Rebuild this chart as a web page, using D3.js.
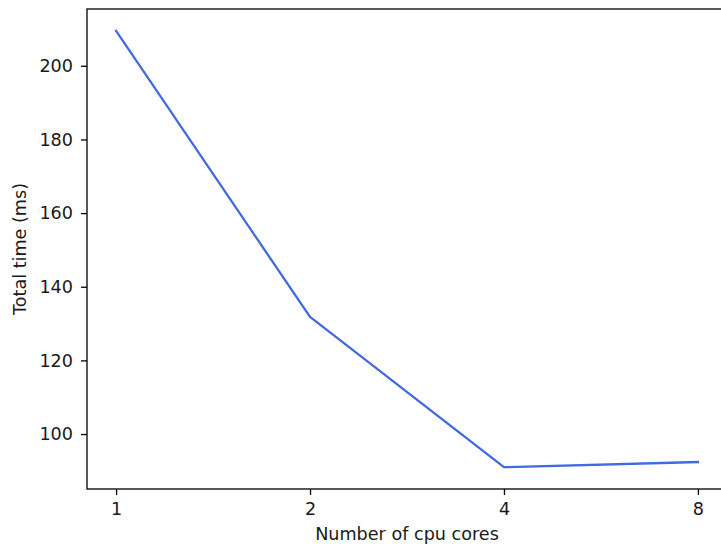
<!DOCTYPE html>
<html>
<head>
<meta charset="utf-8">
<script src="https://cdn.jsdelivr.net/npm/d3@7"></script>
<style>
  html, body { margin: 0; padding: 0; background: #fff; }
  svg { display: block; font-family: "DejaVu Sans", sans-serif; }
</style>
</head>
<body>
<svg id="chart" width="721" height="547"></svg>
<script>
// Total time measured for each number of CPU cores
const cores = [1, 2, 4, 8];
const totalTimeMs = [209.5, 131.8, 91.0, 92.4];
const xTickLabels = ["1", "2", "4", "8"];
const yTicks = [100, 120, 140, 160, 180, 200];

const svg = d3.select("#chart");
const plot = { left: 87, top: 9, right: 727, bottom: 489 };
const fontSize = "17.6px";

// log2 x axis with 5% padding on each side
const lx = d3.extent(cores).map(Math.log2);
const padX = (lx[1] - lx[0]) * 0.05;
const x = d3.scaleLog().base(2)
  .domain([Math.pow(2, lx[0] - padX), Math.pow(2, lx[1] + padX)])
  .range([plot.left, plot.right]);

const ye = d3.extent(totalTimeMs);
const padY = (ye[1] - ye[0]) * 0.05;
const y = d3.scaleLinear()
  .domain([ye[0] - padY, ye[1] + padY])
  .range([plot.bottom, plot.top]);

const tickSize = 6;

// x axis
const xAxis = svg.append("g")
  .attr("transform", `translate(0,${plot.bottom})`)
  .call(d3.axisBottom(x).tickValues(cores)
    .tickFormat((d, i) => xTickLabels[i]).tickSize(tickSize).tickPadding(8));
// y axis
const yAxis = svg.append("g")
  .attr("transform", `translate(${plot.left},0)`)
  .call(d3.axisLeft(y).tickValues(yTicks).tickSize(tickSize).tickPadding(8));

[xAxis, yAxis].forEach(g => {
  g.select(".domain").remove();
  g.selectAll(".tick line").attr("stroke", "#000").attr("stroke-width", 1.3);
  g.selectAll(".tick text").attr("fill", "#1a1a1a")
    .style("font-size", fontSize).style("font-family", "DejaVu Sans, sans-serif");
});

// frame
svg.append("rect")
  .attr("x", plot.left).attr("y", plot.top)
  .attr("width", plot.right - plot.left).attr("height", plot.bottom - plot.top)
  .attr("fill", "none").attr("stroke", "#000").attr("stroke-width", 1.3);

// data line
const line = d3.line()
  .x((d, i) => x(cores[i]))
  .y(d => y(d));
svg.append("path")
  .datum(totalTimeMs)
  .attr("d", line)
  .attr("fill", "none")
  .attr("stroke", "#4169e1")
  .attr("stroke-width", 2.3)
  .attr("stroke-linejoin", "round")
  .attr("stroke-linecap", "square");

// axis labels
svg.append("text")
  .attr("x", (plot.left + plot.right) / 2)
  .attr("y", 540)
  .attr("text-anchor", "middle")
  .attr("fill", "#1a1a1a")
  .style("font-size", fontSize)
  .text("Number of cpu cores");

svg.append("text")
  .attr("transform", `translate(26,${(plot.top + plot.bottom) / 2}) rotate(-90)`)
  .attr("text-anchor", "middle")
  .attr("fill", "#1a1a1a")
  .style("font-size", fontSize)
  .text("Total time (ms)");
</script>
</body>
</html>
